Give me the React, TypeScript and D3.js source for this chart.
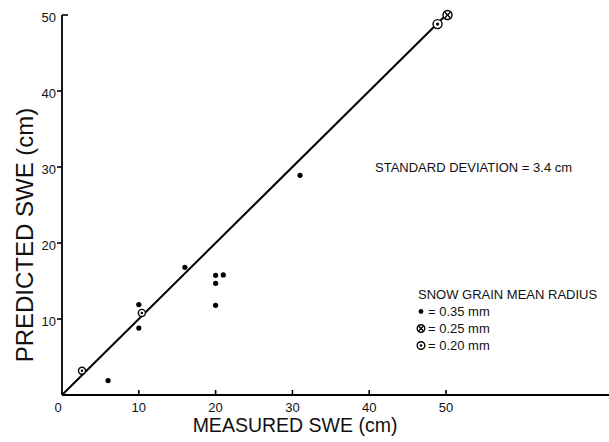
import React from "react";
import * as d3 from "d3";

const W = 609;
const H = 442;

// 0.35 mm grains (filled dots)
const dotMeasured = [6, 10, 10, 16, 20, 21, 20, 20, 31];
const dotPredicted = [1.9, 11.9, 8.8, 16.8, 15.75, 15.8, 14.7, 11.8, 28.9];
// 0.25 mm grains (circled cross)
const crossMeasured = [50.2];
const crossPredicted = [50];
// 0.20 mm grains (circled dot)
const ringMeasured = [2.6, 10.4, 48.9];
const ringPredicted = [3.2, 10.8, 48.8];

const xTicks = [0, 10, 20, 30, 40, 50];
const yTicks = [10, 20, 30, 40, 50];
const lineEnds = [0, 50];
const legendRows = ["= 0.35 mm", "= 0.25 mm", "= 0.20 mm"];

const FONT = "'Liberation Sans', Arial, Helvetica, sans-serif";

function Ring({ cx, cy, r, kind }: { cx: number; cy: number; r: number; kind: string }) {
  const d = r * 0.65;
  return (
    <g>
      <circle cx={cx} cy={cy} r={r} fill="white" stroke="black" strokeWidth={1.4} />
      {kind === "cross" ? (
        <>
          <line x1={cx - d} y1={cy - d} x2={cx + d} y2={cy + d} stroke="black" strokeWidth={1.3} />
          <line x1={cx - d} y1={cy + d} x2={cx + d} y2={cy - d} stroke="black" strokeWidth={1.3} />
        </>
      ) : (
        <circle cx={cx} cy={cy} r={r * 0.35} fill="black" />
      )}
    </g>
  );
}

export default function App() {
  const x = d3.scaleLinear().domain([0, 50]).range([62, 446]);
  const y = d3.scaleLinear().domain([0, 50]).range([395, 15]);
  const line = d3
    .line<number>()
    .x((v) => x(v))
    .y((v) => y(v));

  const legX = 421;
  const legY0 = 299;
  const legDy = 17;

  return (
    <svg
      width={W}
      height={H}
      style={{ position: "absolute", left: 0, top: 0, background: "white" }}
      fontFamily={FONT}
    >
      <rect x={0} y={0} width={W} height={H} fill="white" />
      {/* axes */}
      <line x1={x(0)} y1={y(0)} x2={W} y2={y(0)} stroke="black" strokeWidth={1.8} />
      <line x1={x(0)} y1={y(0)} x2={x(0)} y2={y(50)} stroke="black" strokeWidth={1.8} />
      {xTicks.slice(1).map((t) => (
        <line key={"xt" + t} x1={x(t)} x2={x(t)} y1={y(0)} y2={y(0) - 5} stroke="black" strokeWidth={1.6} />
      ))}
      {yTicks.map((t) =>
        t === 50 ? (
          <line key={"yt" + t} x1={x(0)} x2={x(0) + 6} y1={y(t)} y2={y(t)} stroke="black" strokeWidth={1.6} />
        ) : (
          <line key={"yt" + t} x1={x(0) - 5} x2={x(0)} y1={y(t)} y2={y(t)} stroke="black" strokeWidth={1.6} />
        )
      )}
      {xTicks.map((t) => (
        <text key={"xl" + t} x={t === 0 ? x(t) - 4 : x(t)} y={412} fontSize={13} textAnchor="middle" fill="#111">
          {t}
        </text>
      ))}
      {yTicks.map((t) => (
        <text key={"yl" + t} x={56} y={y(t) + 7} fontSize={13} textAnchor="end" fill="#111">
          {t}
        </text>
      ))}
      {/* titles */}
      <text x={295} y={432} fontSize={19.5} textAnchor="middle" fill="#111">
        MEASURED SWE (cm)
      </text>
      <text transform="translate(33,235) rotate(-90)" fontSize={24} textAnchor="middle" fill="#111">
        PREDICTED SWE (cm)
      </text>
      {/* 1:1 line */}
      <path d={line(lineEnds) || ""} fill="none" stroke="black" strokeWidth={2} />
      {/* points */}
      {dotMeasured.map((m, i) => (
        <circle key={"d" + i} cx={x(m)} cy={y(dotPredicted[i])} r={2.6} fill="black" />
      ))}
      {ringMeasured.map((m, i) => (
        <Ring key={"r" + i} cx={x(m)} cy={y(ringPredicted[i])} r={i === 2 ? 4.5 : 3.5} kind="ring" />
      ))}
      {crossMeasured.map((m, i) => (
        <Ring key={"c" + i} cx={x(m)} cy={y(crossPredicted[i])} r={4.5} kind="cross" />
      ))}
      {/* annotations */}
      <text x={375} y={172} fontSize={13} fill="#111">
        STANDARD DEVIATION = 3.4 cm
      </text>
      <text x={418} y={legY0} fontSize={13} fill="#111">
        SNOW GRAIN MEAN RADIUS
      </text>
      {legendRows.map((txt, i) => (
        <g key={"lg" + i}>
          {i === 0 ? (
            <circle cx={legX} cy={legY0 + legDy * (i + 1) - 4.5} r={2.4} fill="black" />
          ) : (
            <Ring cx={legX} cy={legY0 + legDy * (i + 1) - 4.5} r={3.8} kind={i === 1 ? "cross" : "ring"} />
          )}
          <text x={428} y={legY0 + legDy * (i + 1)} fontSize={13} fill="#111">
            {txt}
          </text>
        </g>
      ))}
    </svg>
  );
}
